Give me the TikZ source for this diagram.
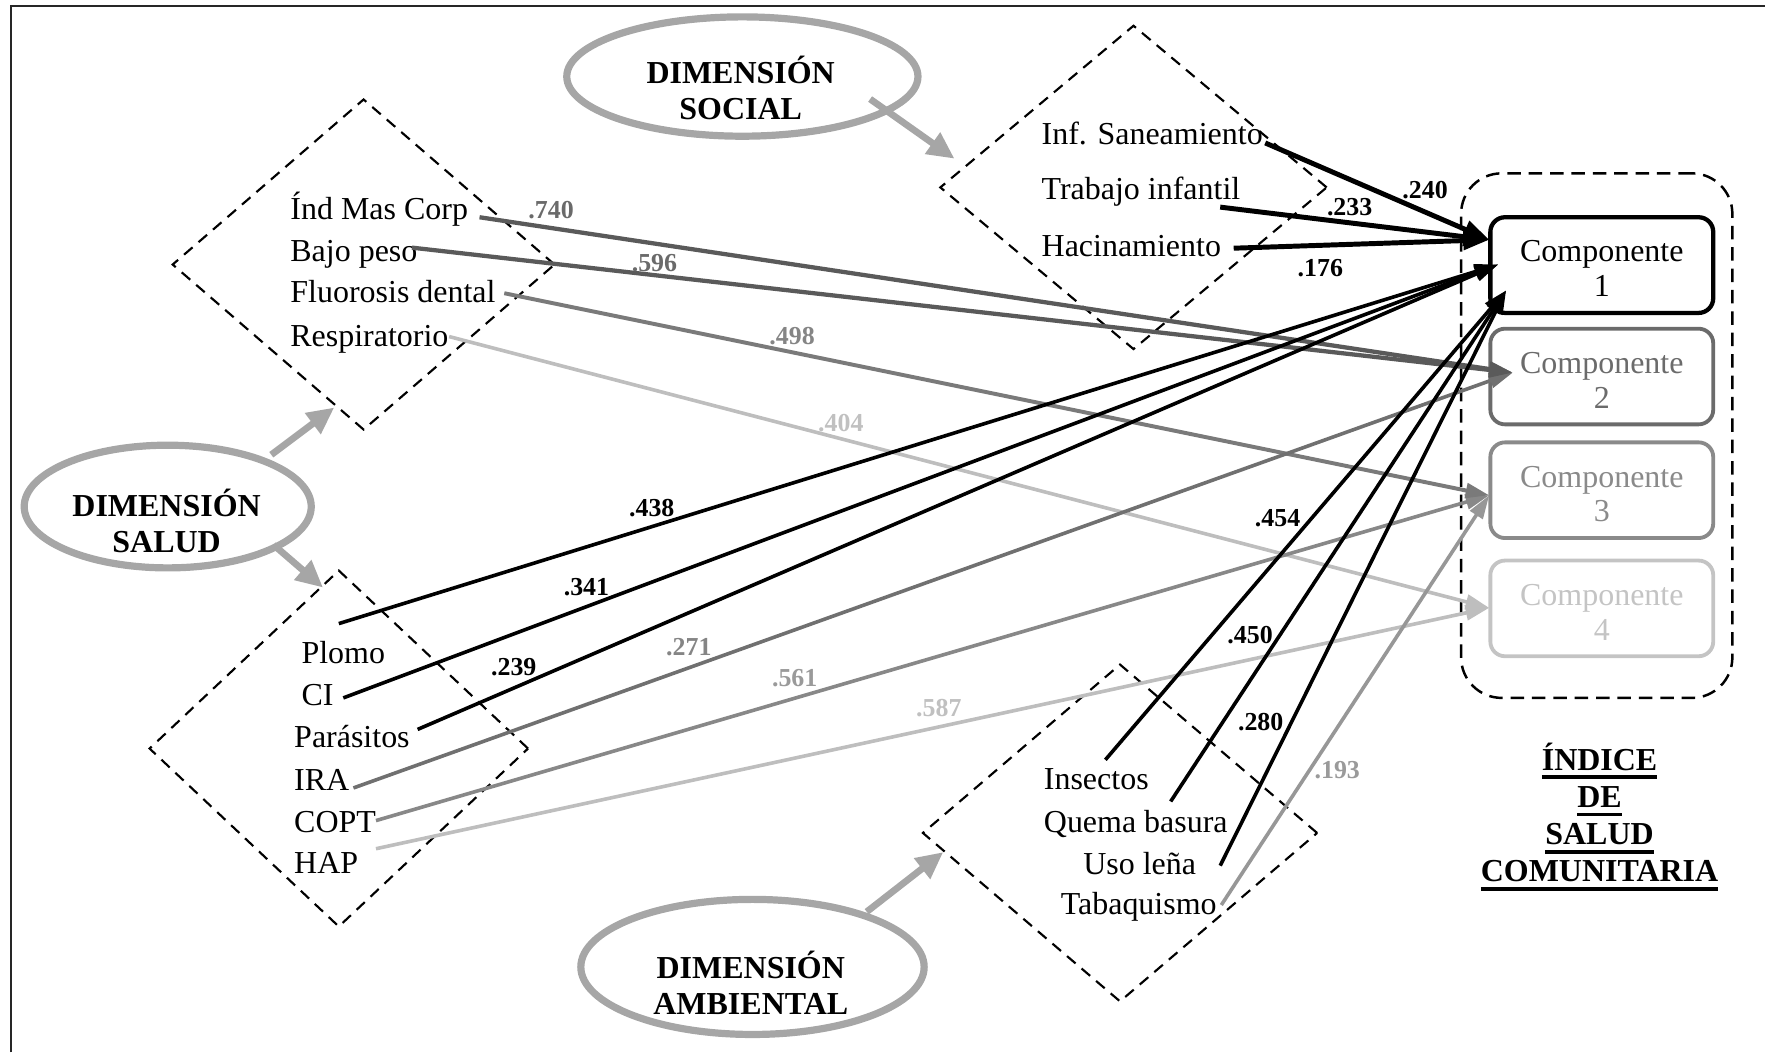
\documentclass[tikz,border=0pt]{standalone}
\usepackage{fontspec}
\setmainfont{Liberation Serif}
\usetikzlibrary{arrows.meta,shapes.geometric}

\definecolor{ringgray}{HTML}{A6A6A6}
\definecolor{ctwo}{HTML}{6B6B6B}
\definecolor{cthree}{HTML}{8A8A8A}
\definecolor{cfour}{HTML}{C4C4C4}
\definecolor{lntwo}{HTML}{5A5A5A}
\definecolor{lnira}{HTML}{707070}
\definecolor{lnthree}{HTML}{7A7A7A}
\definecolor{lncopt}{HTML}{888888}
\definecolor{lntab}{HTML}{979797}
\definecolor{lnfour}{HTML}{BEBEBE}
\definecolor{kdark}{HTML}{6A6A6A}
\definecolor{kmid}{HTML}{858585}
\definecolor{klight}{HTML}{9A9A9A}
\definecolor{kpale}{HTML}{C0C0C0}

\newcommand\lines[1]{\begin{tabular}[t]{@{}c@{}}#1\end{tabular}}
\newcommand\thickul[1]{\setbox0=\hbox{#1}\rlap{\vrule height -2.2pt depth 3.9pt width \wd0}\box0}

\begin{document}
\begin{tikzpicture}[x=0.5pt,y=-0.5pt,
  item/.style={font=\fontsize{14.2}{15.5}\selectfont, inner sep=0, anchor=base west},
  dimtxt/.style={font=\fontsize{14.2}{16}\selectfont\bfseries, inner sep=0, anchor=base},
  idxtxt/.style={font=\fontsize{14.2}{16.5}\selectfont\bfseries, inner sep=0, anchor=base},
  comptxt/.style={font=\fontsize{14.2}{15.5}\selectfont, inner sep=0, anchor=base},
  coef/.style={font=\fontsize{11.5}{12}\selectfont\bfseries, inner sep=0},
  ring/.style={ellipse, draw=ringgray, line width=3.2pt, inner sep=0},
  zone/.style={diamond, draw, dash pattern=on 5pt off 3.5pt, line width=0.95pt, inner sep=0},
  compbox/.style={rectangle, rounded corners=6.5pt, minimum width=99pt, minimum height=42.5pt, inner sep=0, line width=1.7pt},
  outerbox/.style={rectangle, rounded corners=18pt, draw, dash pattern=on 6pt off 3.5pt, line width=1.1pt, minimum width=120.5pt, minimum height=233pt, inner sep=0},
  feed/.style={line width=1.6pt, -{Triangle[length=10.5pt,width=6.5pt]}},
  strong/.style={line width=2.2pt, -{Triangle[length=11.5pt,width=8pt]}},
  push/.style={draw=ringgray, line width=3pt, -{Triangle[length=12pt,width=11pt]}}
]
\useasboundingbox (0,0) rectangle (1568,935);

% page frame
\draw[line width=0.9pt, black!85] (9.8,935) -- (9.8,5.3) -- (1568,5.3);

% dimension rings and their titles
\node[ring, minimum width=156pt, minimum height=53pt] (soc) at (659.5,68) {};
\node[ring, minimum width=127.5pt, minimum height=54.5pt] (sal) at (149,450) {};
\node[ring, minimum width=152.5pt, minimum height=60pt] (amb) at (668.5,859) {};
\node[dimtxt] (soct) at (658,74.5) {\lines{DIMENSIÓN\\SOCIAL}};
\node[dimtxt] (salt) at (148,458.5) {\lines{DIMENSIÓN\\SALUD}};
\node[dimtxt] (ambt) at (667,869.5) {\lines{DIMENSIÓN\\AMBIENTAL}};

% indicator groups
\node[zone, minimum width=172pt, minimum height=144pt] (zs) at (1007,166.5) {};
\node[zone, minimum width=170pt, minimum height=147pt] (zh) at (323,235) {};
\node[zone, minimum width=168.5pt, minimum height=158.5pt] (zb) at (301,665) {};
\node[zone, minimum width=175.5pt, minimum height=150pt] (za) at (995,740) {};

% indicators
\node[item] (sa) at (925,128.5) {Inf. Saneamiento};
\node[item] (ti) at (925,177.5) {Trabajo infantil};
\node[item] (ha) at (925,227.5) {Hacinamiento};

\node[item] (imc) at (257.6,195) {Índ Mas Corp};
\node[item] (bp) at (257.6,232) {Bajo peso};
\node[item] (fl) at (257.6,269) {Fluorosis dental};
\node[item] (re) at (257.6,307.5) {Respiratorio};

\node[item] (pl) at (267.5,589.5) {Plomo};
\node[item] (ci) at (267.5,626.5) {CI};
\node[item] (pa) at (261,664) {Parásitos};
\node[item] (ira) at (261,702.5) {IRA};
\node[item] (copt) at (261,739.5) {COPT};
\node[item] (hap) at (261,776) {HAP};

\node[item] (ins) at (927,701) {Insectos};
\node[item] (qb) at (927,739.5) {Quema basura};
\node[item] (ul) at (962,777) {Uso leña};
\node[item] (tab) at (942,812.5) {Tabaquismo};

% index and its components
\node[outerbox] (idx) at (1418.5,387) {};
\node[compbox, draw=black, line width=1.9pt] (c1) at (1423,235.5) {};
\node[compbox, draw=ctwo] (c2) at (1423,334.5) {};
\node[compbox, draw=cthree] (c3) at (1423,435.5) {};
\node[compbox, draw=cfour] (c4) at (1423,540.5) {};
\node[comptxt] (c1t) at (1423,232.7) {\lines{Componente\\1}};
\node[comptxt, text=ctwo] (c2t) at (1423,331.7) {\lines{Componente\\2}};
\node[comptxt, text=cthree] (c3t) at (1423,432.7) {\lines{Componente\\3}};
\node[comptxt, text=cfour] (c4t) at (1423,537.7) {\lines{Componente\\4}};
\node[idxtxt] (isc) at (1421,684.5) {\lines{\thickul{ÍNDICE}\\\thickul{DE}\\\thickul{SALUD}\\\thickul{COMUNITARIA}}};

% connector ends
\coordinate (o-sa) at (1124,127);
\coordinate (o-ti) at (1084,184);
\coordinate (o-ha) at (1096,220.5);
\coordinate (o-imc) at (426,193);
\coordinate (o-bp) at (366,220);
\coordinate (o-fl) at (448,260.5);
\coordinate (o-re) at (399,299);
\coordinate (o-pl) at (301,554);
\coordinate (o-ci) at (305,620);
\coordinate (o-pa) at (371,648);
\coordinate (o-ira) at (314,700);
\coordinate (o-copt) at (334,729);
\coordinate (o-hap) at (334,754);
\coordinate (o-ins) at (982,675);
\coordinate (o-qb) at (1040,712);
\coordinate (o-ul) at (1084,769);
\coordinate (o-tab) at (1085,804);

\coordinate (c1-s) at (1323,213);
\coordinate (c1-h) at (1331,235);
\coordinate (c1-a) at (1338,258);
\coordinate (c2-in) at (1344,331);
\coordinate (c3-in) at (1323,440);
\coordinate (c4-in) at (1323,540);

% ring arrows
\coordinate (soc-out) at (773,88);
\coordinate (zs-in) at (848,141);
\coordinate (sal-up) at (241,404);
\coordinate (zh-in) at (297,362);
\coordinate (sal-dn) at (243,484);
\coordinate (zb-in) at (287,522);
\coordinate (amb-out) at (770,810);
\coordinate (za-in) at (838,757);
\draw[push] (soc-out) -- (zs-in);
\draw[push] (sal-up) -- (zh-in);
\draw[push] (sal-dn) -- (zb-in);
\draw[push] (amb-out) -- (za-in);

% loadings
\draw[feed, lnfour] (o-re) -- (c4-in);
\draw[feed, lnfour] (o-hap) -- (c4-in);
\draw[feed, lntab] (o-tab) -- (c3-in);
\draw[feed, lncopt] (o-copt) -- (c3-in);
\draw[feed, lnthree, line width=1.75pt] (o-fl) -- (c3-in);
\draw[feed, lnira] (o-ira) -- (c2-in);
\draw[feed, lntwo, line width=1.9pt] (o-imc) -- (c2-in);
\draw[feed, lntwo, line width=1.9pt] (o-bp) -- (c2-in);
\draw[feed] (o-pl) -- (c1-h);
\draw[feed] (o-ci) -- (c1-h);
\draw[feed] (o-pa) -- (c1-h);
\draw[feed] (o-ins) -- (c1-a);
\draw[feed] (o-qb) -- (c1-a);
\draw[feed] (o-ul) -- (c1-a);
\draw[strong] (o-sa) -- (c1-s);
\draw[strong] (o-ti) -- (c1-s);
\draw[strong] (o-ha) -- (c1-s);

% coefficients
\node[coef] (k1) at (1266,169) {.240};
\node[coef] (k2) at (1199,184) {.233};
\node[coef] (k3) at (1173,238) {.176};
\node[coef, text=kdark] (k4) at (489.6,186.5) {.740};
\node[coef, text=kdark] (k5) at (581.4,234) {.596};
\node[coef, text=kmid] (k6) at (703.7,299) {.498};
\node[coef, text=kpale] (k7) at (747,376) {.404};
\node[coef] (k8) at (579,451) {.438};
\node[coef] (k9) at (521,521.5) {.341};
\node[coef] (k10) at (456.4,593) {.239};
\node[coef, text=kmid] (k11) at (612,575) {.271};
\node[coef, text=klight] (k12) at (706,602.6) {.561};
\node[coef, text=kpale] (k13) at (834,629) {.587};
\node[coef] (k14) at (1135,460) {.454};
\node[coef] (k15) at (1110.6,564) {.450};
\node[coef] (k16) at (1120,641.6) {.280};
\node[coef, text=klight] (k17) at (1188,684) {.193};
\end{tikzpicture}
\end{document}
